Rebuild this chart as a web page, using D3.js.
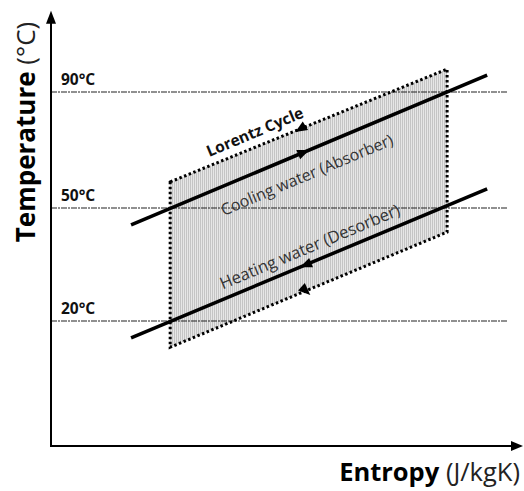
<!DOCTYPE html>
<html><head><meta charset="utf-8">
<script src="https://cdn.jsdelivr.net/npm/d3@7"></script>
<style>body{margin:0;background:#fff}svg{display:block}text{font-family:"Open Sans","Noto Sans",sans-serif}</style>
</head><body>
<svg id="c" width="524" height="491"></svg>
<script>
// Schematic data (entropy in arbitrary units, temperature in °C)
const isotherms = [90, 50, 20];
const isoLabels = ["90°C", "50°C", "20°C"];
const isoRange = [0, 9.7];
const coolingLine = [[1.7, 45.5], [9.26, 95.8]];
const heatingLine = [[1.7, 17.3], [9.26, 56.6]];
const cycle = [[2.53, 59.0], [8.41, 97.9], [8.41, 43.6], [2.53, 15.8]];
const tempAxisMax = 118;
const entropyAxisMax = 10;

const svg = d3.select("#c");
const x = d3.scaleLinear().domain([0, entropyAxisMax]).range([51, 522]);
const y = d3.scaleLinear().domain([0, 20, 50, 90]).range([446, 321, 208, 92]);

// hatch pattern
const defs = svg.append("defs");
const pat = defs.append("pattern").attr("id", "hatch").attr("patternUnits", "userSpaceOnUse")
  .attr("width", 2).attr("height", 4);
pat.append("rect").attr("width", 2).attr("height", 4).attr("fill", "#e6e6e6");
pat.append("rect").attr("width", 1).attr("height", 4).attr("fill", "#c4c4c4");

const line = d3.line().x(d => x(d[0])).y(d => y(d[1]));

// cycle fill
svg.append("path").attr("d", line(cycle) + "Z").attr("fill", "url(#hatch)");

// isotherms
isotherms.forEach((t, i) => {
  svg.append("line").attr("x1", x(isoRange[0])).attr("x2", x(isoRange[1]))
    .attr("y1", y(t)).attr("y2", y(t))
    .attr("stroke", "#222").attr("stroke-width", 1.2).attr("stroke-dasharray", "6,1,2,1");
  svg.append("text").attr("x", x(0) + 10).attr("y", y(t) - 7)
    .attr("font-size", 15.5).attr("font-weight", "bold").attr("fill", "#111").text(isoLabels[i]);
});

// cycle dotted outline
svg.append("path").attr("d", line(cycle) + "Z").attr("fill", "none")
  .attr("stroke", "#000").attr("stroke-width", 3).attr("stroke-dasharray", "2.5,2.5");

// process lines
[coolingLine, heatingLine].forEach(l => {
  svg.append("path").attr("d", line(l)).attr("stroke", "#000").attr("stroke-width", 3.5).attr("fill", "none");
});

function arrowAt(p0, p1, t, dir, extraRot) {
  const ax = x(p0[0]) + (x(p1[0]) - x(p0[0])) * t;
  const ay = y(p0[1]) + (y(p1[1]) - y(p0[1])) * t;
  let ang = Math.atan2(y(p1[1]) - y(p0[1]), x(p1[0]) - x(p0[0])) * 180 / Math.PI;
  if (dir < 0) ang += 180;
  ang += extraRot || 0;
  svg.append("path").attr("d", "M6,0 L-6,-5 L-6,5 Z").attr("fill", "#000")
    .attr("transform", `translate(${ax},${ay}) rotate(${ang})`);
}
arrowAt(coolingLine[0], coolingLine[1], 0.485, 1);
arrowAt(cycle[0], cycle[1], 0.47, -1, -10);
arrowAt(heatingLine[0], heatingLine[1], 0.49, -1);
arrowAt(cycle[3], cycle[2], 0.49, 1, 65);

// rotated labels
const ang = Math.atan2(y(coolingLine[1][1]) - y(coolingLine[0][1]), x(coolingLine[1][0]) - x(coolingLine[0][0])) * 180 / Math.PI;
function rlabel(cx, cy, txt, w, fs, col) {
  svg.append("text").attr("transform", `translate(${cx},${cy}) rotate(${ang})`)
    .attr("text-anchor", "middle").attr("font-size", fs).attr("font-weight", w).attr("fill", col).text(txt);
}
rlabel(257, 137, "Lorentz Cycle", "bold", 15.5, "#111");
rlabel(309, 180, "Cooling water (Absorber)", "normal", 16, "#333");
rlabel(312, 252, "Heating water (Desorber)", "normal", 16.5, "#333");

// axes
svg.append("line").attr("x1", x(0)).attr("x2", x(0)).attr("y1", y(0)).attr("y2", y(tempAxisMax) + 6)
  .attr("stroke", "#000").attr("stroke-width", 2);
svg.append("line").attr("x1", x(0) - 1).attr("x2", x(entropyAxisMax) - 8).attr("y1", y(0)).attr("y2", y(0))
  .attr("stroke", "#000").attr("stroke-width", 2);
svg.append("path").attr("d", `M${x(0)},${y(tempAxisMax)} L${x(0) - 5},${y(tempAxisMax) + 13} L${x(0) + 5},${y(tempAxisMax) + 13} Z`).attr("fill", "#000");
svg.append("path").attr("d", `M${x(entropyAxisMax) + 1},${y(0)} L${x(entropyAxisMax) - 11},${y(0) - 5} L${x(entropyAxisMax) - 11},${y(0) + 5} Z`).attr("fill", "#000");

// axis titles
const yt = svg.append("text").attr("transform", `translate(35,${132}) rotate(-90)`)
  .attr("text-anchor", "middle").attr("font-size", 26).attr("fill", "#000");
yt.append("tspan").attr("font-weight", "bold").text("Temperature");
yt.append("tspan").attr("font-weight", "normal").attr("fill", "#222").text(" (°C)");

const xt = svg.append("text").attr("x", 520).attr("y", 481).attr("text-anchor", "end")
  .attr("font-size", 25.5).attr("fill", "#000");
xt.append("tspan").attr("font-weight", "bold").text("Entropy");
xt.append("tspan").attr("font-weight", "normal").attr("fill", "#222").text(" (J/kgK)");
</script>
</body></html>
